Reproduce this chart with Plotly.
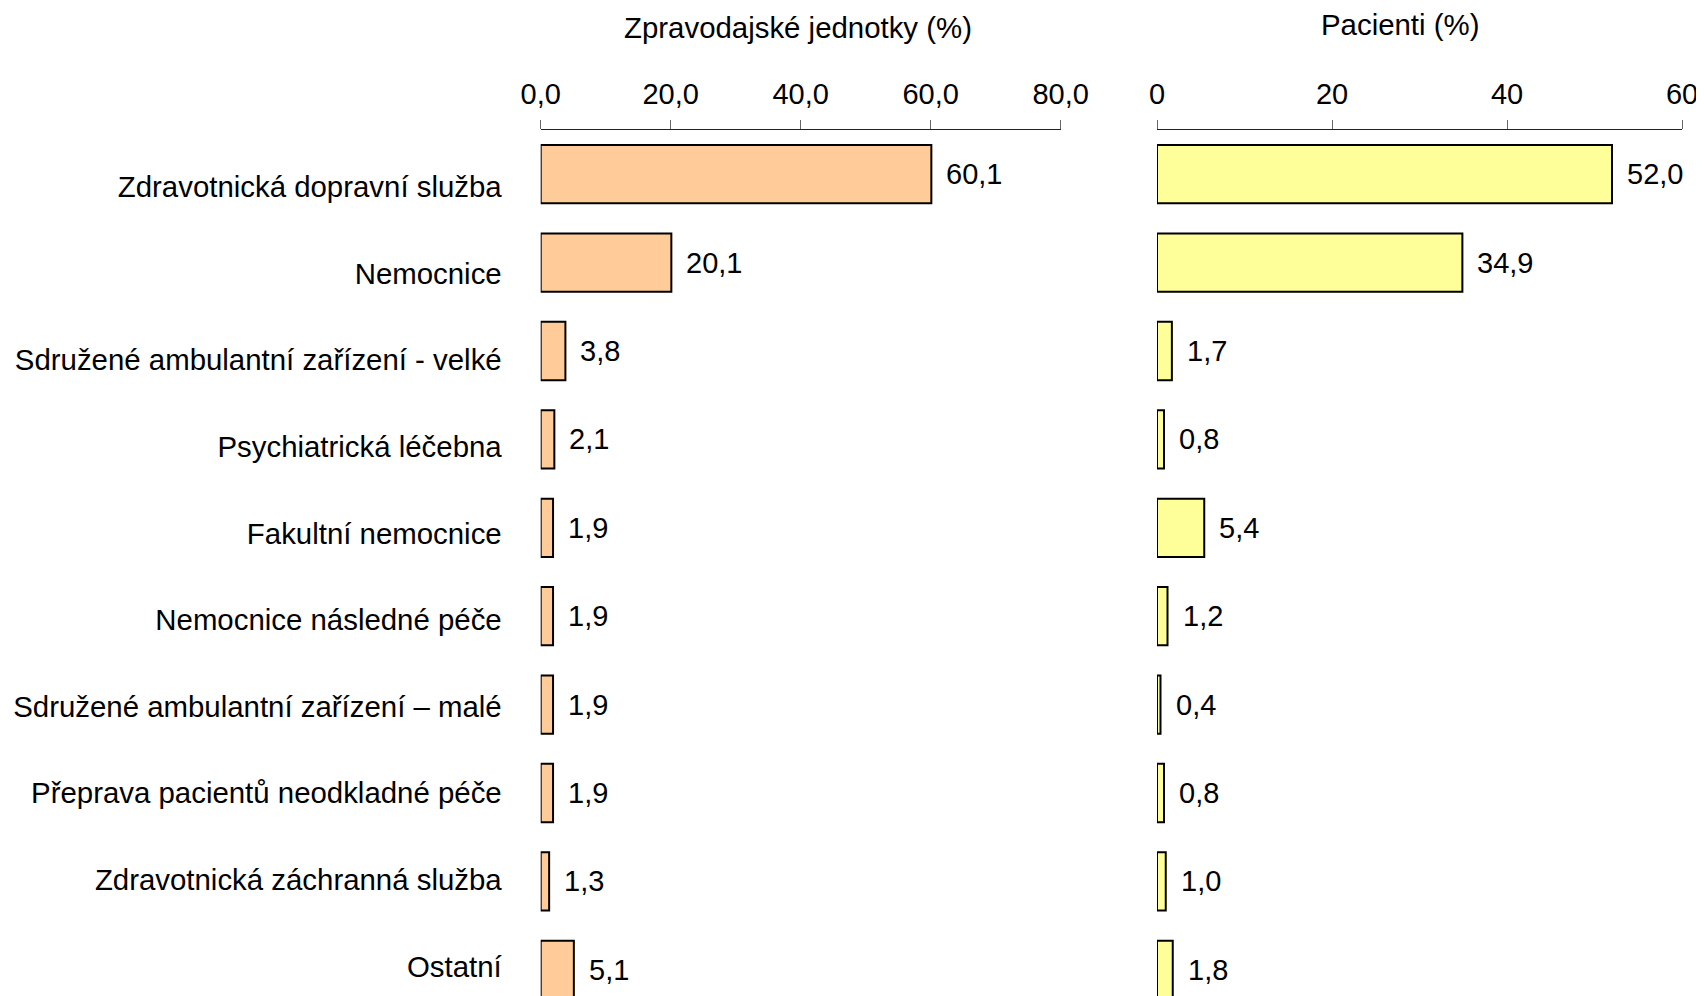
import plotly.graph_objects as go

categories = [
    "Zdravotnická dopravní služba",
    "Nemocnice",
    "Sdružené ambulantní zařízení - velké",
    "Psychiatrická léčebna",
    "Fakultní nemocnice",
    "Nemocnice následné péče",
    "Sdružené ambulantní zařízení – malé",
    "Přeprava pacientů neodkladné péče",
    "Zdravotnická záchranná služba",
    "Ostatní",
]
units_pct = [60.1, 20.1, 3.8, 2.1, 1.9, 1.9, 1.9, 1.9, 1.3, 5.1]
patients_pct = [52.0, 34.9, 1.7, 0.8, 5.4, 1.2, 0.4, 0.8, 1.0, 1.8]
left_ticks = [0, 20, 40, 60, 80]
right_ticks = [0, 20, 40, 60]
left_title = "Zpravodajské jednotky (%)"
right_title = "Pacienti (%)"

FONT = "Liberation Sans, Arial, sans-serif"
# page body has an 8px margin; the figure is sized to fill the rest of the window
W, H = 1696, 988
TOP = 122
BAND = 88.4        # pixels per bar row
LABEL_BAND = 86.6  # pixels per category-label row (labels are spaced slightly tighter)
LABEL_FIRST = 57   # first label centre below the plot top, px

n = len(categories)
idx = list(range(n))

def fmt(v):
    return f"{v:.1f}".replace(".", ",")

fig = go.Figure()
fig.add_trace(go.Bar(
    x=units_pct, y=idx, orientation="h", xaxis="x", yaxis="y",
    marker=dict(color="#FFCC99", line=dict(color="#000000", width=2)),
    width=0.66, showlegend=False, hoverinfo="skip",
))
fig.add_trace(go.Bar(
    x=patients_pct, y=idx, orientation="h", xaxis="x2", yaxis="y2",
    marker=dict(color="#FFFF99", line=dict(color="#000000", width=2)),
    width=0.66, showlegend=False, hoverinfo="skip",
))
# invisible carrier for the category-label axis
fig.add_trace(go.Scatter(
    x=[0] * n, y=idx, xaxis="x", yaxis="y3", mode="markers",
    marker=dict(opacity=0), showlegend=False, hoverinfo="skip",
))

annotations = []
for i, v in zip(idx, units_pct):
    annotations.append(dict(x=v, y=i, xref="x", yref="y", text=fmt(v),
                            showarrow=False, xanchor="left", xshift=13, yshift=0,
                            font=dict(family=FONT, size=29, color="#000")))
for i, v in zip(idx, patients_pct):
    annotations.append(dict(x=v, y=i, xref="x2", yref="y2", text=fmt(v),
                            showarrow=False, xanchor="left", xshift=13, yshift=0,
                            font=dict(family=FONT, size=29, color="#000")))
annotations.append(dict(x=790 / W, y=1, xref="paper", yref="paper", text=left_title,
                        showarrow=False, xanchor="center", yanchor="middle", yshift=103,
                        font=dict(family=FONT, size=29.4, color="#000")))
annotations.append(dict(x=1392 / W, y=1, xref="paper", yref="paper", text=right_title,
                        showarrow=False, xanchor="center", yanchor="middle", yshift=106,
                        font=dict(family=FONT, size=29.4, color="#000")))

plot_h = H - TOP
yrange = [-0.5 + plot_h / BAND, -0.5]
lab_top = -LABEL_FIRST / LABEL_BAND
yrange_lab = [lab_top + plot_h / LABEL_BAND, lab_top]

xcommon = dict(side="top", showgrid=False, zeroline=False, showline=True,
               linecolor="#222222", linewidth=1, ticks="outside", ticklen=9,
               tickcolor="#666666", tickwidth=1, ticklabelstandoff=4,
               automargin=False,
               tickfont=dict(family=FONT, size=29, color="#000"), fixedrange=True)
ycommon = dict(domain=[0, 1], showgrid=False, zeroline=False, showline=False,
               ticks="", automargin=False, fixedrange=True)

fig.update_layout(
    width=W, height=H,
    margin=dict(l=0, r=0, t=TOP, b=0, autoexpand=False),
    paper_bgcolor="white", plot_bgcolor="white",
    separators=", ",
    xaxis=dict(domain=[532.7 / W, 1052.7 / W], range=[0, 80], tickvals=left_ticks,
               tickformat=".1f", anchor="y", **xcommon),
    xaxis2=dict(domain=[1149 / W, 1674 / W], range=[0, 60], tickvals=right_ticks,
                tickformat="d", anchor="y2", **xcommon),
    yaxis=dict(range=yrange, showticklabels=False, anchor="x", **ycommon),
    yaxis2=dict(range=yrange, showticklabels=False, anchor="x2", **ycommon),
    yaxis3=dict(range=yrange_lab, overlaying="y", anchor="x", side="left",
                tickmode="array", tickvals=idx, ticktext=categories,
                ticklabelstandoff=38,
                tickfont=dict(family=FONT, size=29.4, color="#000"), **ycommon),
    annotations=annotations,
)

fig.write_html("out.html", config={"displayModeBar": False})
